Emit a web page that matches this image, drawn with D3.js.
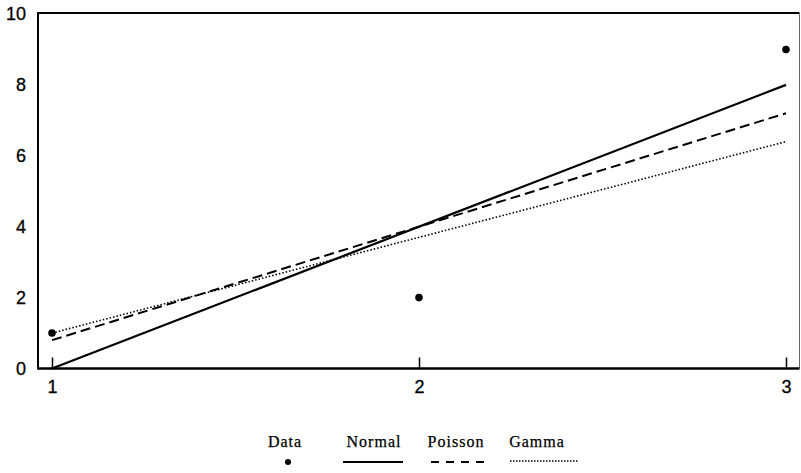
<!DOCTYPE html>
<html><head><meta charset="utf-8">
<script src="https://cdn.jsdelivr.net/npm/d3@7"></script>
<style>body{margin:0;background:#fff}svg{display:block}</style>
</head><body>
<script>
const dataX = [1, 2, 3];
const dataY = [1, 2, 9];
const fitX = [1, 3];
const normalY = [0, 8];
const poissonY = [0.8, 7.2];
const gammaY = [1.0, 6.4];
const xTicks = [1, 2, 3];
const yTicks = [0, 2, 4, 6, 8, 10];
const legendLabels = ["Data", "Normal", "Poisson", "Gamma"];

const W = 801, H = 473;
const svg = d3.select("body").append("svg").attr("width", W).attr("height", H);
const x = d3.scaleLinear().domain([1, 3]).range([52, 786]);
const y = d3.scaleLinear().domain([0, 10]).range([368.5, 14]);
const L = 38, R = 799.5, T = 13, B = 368.5;
const sans = "Liberation Sans, Arial, sans-serif";

// frame
svg.append("line").attr("x1", L).attr("x2", R).attr("y1", T).attr("y2", T).attr("stroke", "#000").attr("stroke-width", 2);
svg.append("line").attr("x1", R).attr("x2", R).attr("y1", T).attr("y2", B).attr("stroke", "#666").attr("stroke-width", 1);

// axes
const xAxis = d3.axisBottom(x).tickValues(xTicks).tickFormat(d3.format("d")).tickSize(0).tickPadding(12);
const gx = svg.append("g").attr("transform", `translate(0,${B})`).call(xAxis);
gx.select(".domain").remove();
gx.selectAll("text").style("font-family", sans).style("font-size", "18px").attr("fill", "#000")
  .attr("stroke", "#000").attr("stroke-width", 0.3);
gx.selectAll(".tick").append("line").attr("y1", 0).attr("y2", -11).attr("stroke", "#000").attr("stroke-width", 1.5);

const yAxis = d3.axisLeft(y).tickValues(yTicks).tickSize(0).tickPadding(12);
const gy = svg.append("g").attr("transform", `translate(${L},0)`).call(yAxis);
gy.select(".domain").remove();
gy.selectAll("text").style("font-family", sans).style("font-size", "18px").attr("fill", "#000")
  .attr("stroke", "#000").attr("stroke-width", 0.3);

svg.append("line").attr("x1", L).attr("x2", L).attr("y1", T - 1).attr("y2", B + 1).attr("stroke", "#000").attr("stroke-width", 2);
svg.append("line").attr("x1", L).attr("x2", R).attr("y1", B).attr("y2", B).attr("stroke", "#000").attr("stroke-width", 2.5);

// fitted lines
const line = d3.line().x(d => x(d[0])).y(d => y(d[1]));
function drawFit(vals, dash, w) {
  svg.append("path").datum(fitX.map((v, i) => [v, vals[i]]))
    .attr("d", line).attr("fill", "none").attr("stroke", "#000")
    .attr("stroke-width", w).attr("stroke-dasharray", dash);
}
drawFit(normalY, null, 2.2);
drawFit(poissonY, "10,5", 2);
drawFit(gammaY, "1.5,2", 1.6);

// data points
svg.selectAll("circle.pt").data(dataX.map((v, i) => [v, dataY[i]])).enter()
  .append("circle").attr("class", "pt").attr("cx", d => x(d[0])).attr("cy", d => y(d[1]))
  .attr("r", 3.8).attr("fill", "#000");

// legend
const legX = [285, 374, 456, 537];
const lg = svg.append("g");
lg.selectAll("text").data(legendLabels).enter().append("text")
  .attr("x", (d, i) => legX[i]).attr("y", 447).attr("text-anchor", "middle")
  .style("font-family", "Liberation Serif, Times New Roman, serif").style("font-size", "16px")
  .style("letter-spacing", "1px").attr("stroke", "#000").attr("stroke-width", 0.25)
  .text(d => d);
lg.append("circle").attr("cx", 288).attr("cy", 462).attr("r", 3).attr("fill", "#000");
lg.append("line").attr("x1", 343).attr("x2", 403).attr("y1", 462).attr("y2", 462).attr("stroke", "#000").attr("stroke-width", 2);
lg.append("line").attr("x1", 431).attr("x2", 485).attr("y1", 462).attr("y2", 462).attr("stroke", "#000").attr("stroke-width", 2).attr("stroke-dasharray", "8,7");
lg.append("line").attr("x1", 510).attr("x2", 578).attr("y1", 461).attr("y2", 461).attr("stroke", "#000").attr("stroke-width", 1.5).attr("stroke-dasharray", "1.5,1.5");
</script>
</body></html>
